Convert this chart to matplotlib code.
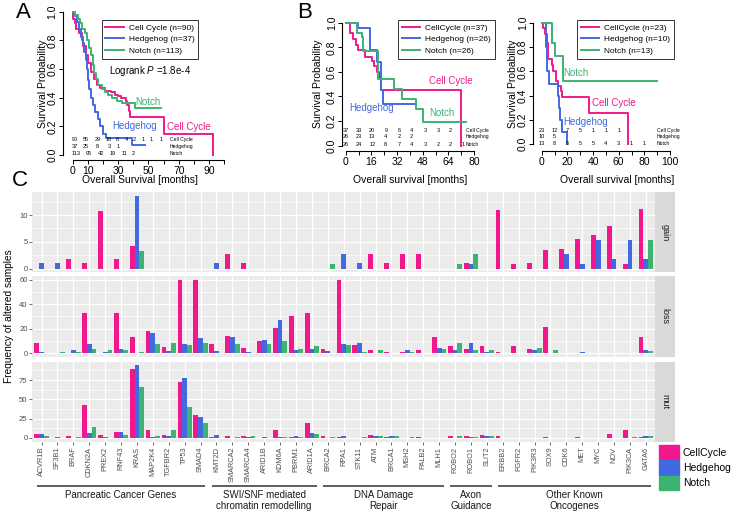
import numpy as np
import matplotlib
matplotlib.use('Agg')
import matplotlib.pyplot as plt
from matplotlib.patches import Patch
from matplotlib.lines import Line2D
from matplotlib.transforms import blended_transform_factory

plt.rcParams['font.family'] = ['Liberation Sans', 'DejaVu Sans']
plt.rcParams['mathtext.fontset'] = 'custom'
plt.rcParams['mathtext.it'] = 'Liberation Sans:italic'
plt.rcParams['mathtext.rm'] = 'Liberation Sans'

W, H = 733, 513
PINK = '#F0188C'
BLUE = '#4169E1'
GREEN = '#3CB371'

# ---- Panel A: Kaplan-Meier, all samples ----
a_cc_t = [0, 0.5, 1.5, 2.5, 4, 6, 7, 9, 10, 12, 14, 16, 18, 21, 25, 28, 30, 32, 35, 36, 37, 38, 60, 92.5]
a_cc_s = [1.0, 0.95, 0.92, 0.88, 0.85, 0.8, 0.76, 0.7, 0.64, 0.58, 0.53, 0.49, 0.465, 0.45, 0.44, 0.42, 0.41, 0.40, 0.38, 0.35, 0.31, 0.267, 0.144, 0.0]
a_hh_t = [0, 1.5, 2.6, 4.2, 5.5, 6.6, 7.5, 8.6, 9.7, 10.3, 11, 11.9, 13.2, 14.7, 16.5, 18, 20.2, 22, 39, 48]
a_hh_s = [1.0, 0.97, 0.93, 0.88, 0.82, 0.78, 0.72, 0.66, 0.6, 0.52, 0.46, 0.4, 0.35, 0.3, 0.25, 0.2, 0.15, 0.12, 0.07, 0.07]
a_nt_t = [0, 1.5, 3.7, 4.8, 5.9, 8.1, 9.7, 11, 12.1, 13.2, 14.3, 15.4, 16.9, 19.1, 21.3, 23.5, 25.7, 29, 32.3, 41.1, 58]
a_nt_s = [1.0, 0.98, 0.95, 0.92, 0.88, 0.85, 0.8, 0.75, 0.7, 0.63, 0.57, 0.53, 0.49, 0.46, 0.44, 0.42, 0.40, 0.38, 0.36, 0.33, 0.33]
a_risk = [['90', '55', '29', '18', '8', '4', '2', '1', '1', '1'],
          ['37', '25', '8', '3', '1'],
          ['113', '95', '42', '19', '11', '2']]
a_risk_t = [[1.5, 8.8, 16.5, 24, 29.7, 35.6, 40.7, 46.6, 52.1, 58.1],
            [1.5, 8.8, 16.5, 24, 29.7],
            [2.2, 10.3, 18.5, 26.2, 33.9, 40]]

# ---- Panel B (left) ----
b_cc_t = [0, 2.7, 4.8, 6.4, 7.9, 12, 16.2, 17.7, 19.3, 21, 22, 71.7]
b_cc_s = [1.0, 0.92, 0.87, 0.82, 0.78, 0.72, 0.69, 0.65, 0.6, 0.55, 0.455, 0.0]
b_hh_t = [0, 7.9, 15.2, 19.5, 22, 23.5, 43.6]
b_hh_s = [1.0, 0.96, 0.78, 0.68, 0.45, 0.34, 0.34]
b_nt_t = [0, 6.9, 10, 11, 20.4, 30.1, 35, 43.6, 48.4, 75]
b_nt_s = [1.0, 0.92, 0.88, 0.77, 0.54, 0.46, 0.38, 0.30, 0.19, 0.19]
b_risk = [['37', '33', '20', '9', '6', '4', '3', '3', '2'],
          ['26', '23', '13', '4', '2', '2'],
          ['26', '24', '12', '8', '7', '4', '3', '2', '2', '1']]
b_risk_t = [0, 8, 16.5, 25, 33.5, 41, 49.5, 57.5, 65, 73.5]

# ---- Panel B (right) ----
c_cc_t = [0, 1, 2.5, 4, 5, 8, 9, 11, 13, 15, 16, 37, 67]
c_cc_s = [1.0, 0.96, 0.91, 0.83, 0.7, 0.65, 0.6, 0.52, 0.48, 0.44, 0.39, 0.26, 0.0]
c_hh_t = [0, 3.4, 4.5, 6, 12.5, 13.5, 14.5, 15.6, 20]
c_hh_s = [1.0, 0.8, 0.6, 0.5, 0.4, 0.3, 0.2, 0.1, 0.0]
c_nt_t = [0, 7.8, 10.4, 16.4, 90]
c_nt_s = [1.0, 0.83, 0.73, 0.52, 0.52]
c_risk = [['23', '12', '7', '5', '1', '1', '1'],
          ['10', '5'],
          ['13', '8', '6', '5', '5', '4', '3', '1', '1']]
c_risk_t = [0, 10, 20, 30, 40, 50, 60, 70, 80]

# ---- Panel C: alteration frequencies ----
genes = ['ACVR1B', 'SF3B1', 'BRAF', 'CDKN2A', 'PREX2', 'RNF43', 'KRAS', 'MAP2K4', 'TGFBR2', 'TP53',
         'SMAD4', 'KMT2D', 'SMARCA2', 'SMARCA4', 'ARID1B', 'KDM6A', 'PBRM1', 'ARID1A', 'BRCA2', 'RPA1',
         'STK11', 'ATM', 'BRCA1', 'MSH2', 'PALB2', 'MLH1', 'ROBO2', 'ROBO1', 'SLIT2', 'ERBB2',
         'FGFR2', 'PIK3R3', 'SOX9', 'CDK6', 'MET', 'MYC', 'NOV', 'PIK3CA', 'GATA6']
gain_cc = [0, 0, 1.8, 1.1, 10.8, 1.8, 4.3, 0, 0, 0,
           0, 0, 2.7, 1.0, 0, 0, 0, 0, 0, 0,
           0, 2.7, 1.1, 2.7, 2.7, 0, 0, 1.1, 0, 10.9,
           0.9, 1.1, 3.4, 3.6, 5.6, 6.2, 7.9, 0.9, 11.2]
gain_hh = [1.0, 1.0, 0, 0, 0, 0, 13.6, 0, 0, 0,
           0, 1.1, 0, 0, 0, 0, 0, 0, 0, 2.7,
           1.1, 0, 0, 0, 0, 0, 0, 0.9, 0, 0,
           0, 0, 0, 2.7, 0.9, 5.4, 1.8, 5.4, 1.8]
gain_nt = [0, 0, 0, 0, 0, 0, 3.3, 0, 0, 0,
           0, 0, 0, 0, 0, 0, 0, 0, 0.9, 0,
           0, 0, 0, 0, 0, 0, 0.9, 2.7, 0, 0,
           0, 0, 0, 0, 0, 0, 0, 0, 5.4]
loss_cc = [7.9, 0, 0, 32.6, 0, 32.6, 13.4, 18, 5, 60,
           60, 7.7, 13.7, 4.1, 9.6, 20.8, 30, 32.6, 3.3, 60,
           6.8, 2.2, 1.1, 0.8, 2.5, 13.4, 5.5, 3.3, 5.5, 0.8,
           5.5, 3.3, 21.6, 0, 0, 0, 0, 0, 13.4]
loss_hh = [1.0, 0, 2.2, 7.4, 0.8, 3.3, 0, 16, 1.6, 7.7,
           12, 1.6, 13.4, 0.8, 10.7, 27, 2.2, 3.3, 1.6, 7.7,
           8.2, 0, 0, 2.7, 0, 4.1, 2.5, 8.2, 0.8, 0,
           0, 2.2, 0, 0, 0.8, 0, 0, 0, 2.2]
loss_nt = [0, 0.8, 0.8, 3.3, 2.5, 2.5, 0.8, 7.7, 8, 6.6,
           8, 0, 7.7, 0, 7.7, 9.9, 3.3, 5.8, 0, 6.8,
           1.1, 2.7, 0, 1.1, 0, 3.3, 8.2, 2.2, 2.5, 0,
           0, 4.1, 2.2, 0, 0, 0, 0, 0, 1.6]
mut_cc = [4.7, 0, 2.6, 43, 3.5, 7.8, 89, 10.8, 3.5, 72,
          29.8, 1.7, 2.6, 2.6, 0, 10.8, 1.3, 19, 2.6, 1.3,
          0, 3.9, 1.3, 0, 1.3, 0, 2.2, 2.2, 3.5, 2.2,
          0, 0, 0.9, 0, 0.9, 0, 5.2, 10.8, 0.9]
mut_hh = [5.6, 0.9, 0, 6, 1.3, 7.8, 94, 1.3, 2.2, 78,
          27.2, 3.9, 0, 1.3, 1.3, 0.9, 2.6, 6.5, 0, 2.6,
          0, 2.6, 2.6, 0, 0, 0, 0, 1.3, 2.2, 0,
          0, 0, 0, 0, 0, 0, 0, 0, 2.2]
mut_nt = [2.2, 0, 1.3, 14, 0, 3.5, 66, 2.2, 10.8, 39.7,
          19.4, 0, 0.9, 2.6, 0, 0.9, 1.3, 4.7, 1.3, 0,
          1.3, 2.2, 2.6, 1.3, 0, 0, 2.6, 1.3, 2.2, 0,
          0, 0, 0, 0, 0, 0, 0, 1.3, 2.2]
groups = [('Pancreatic Cancer Genes', 'ACVR1B', 'SMAD4'),
          ('SWI/SNF mediated\nchromatin remodelling', 'KMT2D', 'ARID1A'),
          ('DNA Damage\nRepair', 'BRCA2', 'MLH1'),
          ('Axon\nGuidance', 'ROBO2', 'SLIT2'),
          ('Other Known\nOncogenes', 'ERBB2', 'GATA6')]

fig = plt.figure(figsize=(W / 100, H / 100), dpi=100)


def px_axes(x0, y0, x1, y1):
    return fig.add_axes([x0 / W, 1 - y1 / H, (x1 - x0) / W, (y1 - y0) / H])


def km(ax, curves, xmax, ticks, labels, yout, xout):
    for t, s, c in curves:
        ax.step(t, s, where='post', color=c, lw=1.4, clip_on=False)
    ax.set_xlim(0, xmax)
    ax.set_ylim(0, 1)
    ax.patch.set_alpha(0)
    for sp in ['top', 'right']:
        ax.spines[sp].set_visible(False)
    ax.spines['left'].set_position(('outward', yout))
    ax.spines['bottom'].set_position(('outward', xout))
    ax.spines['left'].set_bounds(0, 1)
    ax.spines['bottom'].set_bounds(0, xmax)
    ax.set_xticks(ticks)
    ax.set_xticklabels(labels)
    ax.set_yticks([0, 0.2, 0.4, 0.6, 0.8, 1.0])
    ax.set_yticklabels(['0.0', '0.2', '0.4', '0.6', '0.8', '1.0'], rotation=90, va='center')
    ax.tick_params(length=3, width=0.7, pad=1.5, labelsize=7.5)
    ax.tick_params(axis='y', pad=0.8)


def risk(ax, rows, tpos, ys, xlab, names=('Cell Cycle', 'Hedgehog', 'Notch')):
    for r, row in enumerate(rows):
        tp = tpos[r] if isinstance(tpos[0], list) else tpos
        for v, t in zip(row, tp):
            ax.text(t, ys[r], v, fontsize=4, ha='center', va='center', clip_on=False)
        ax.text(xlab, ys[r], names[r], fontsize=3.6, ha='left', va='center', clip_on=False)


def km_legend(ax, labels, x, y):
    handles = [Line2D([], [], color=c, lw=1.4) for c in (PINK, BLUE, GREEN)]
    leg = ax.legend(handles, labels, loc='upper left', bbox_to_anchor=(x / W, 1 - y / H),
                    bbox_transform=fig.transFigure, fontsize=6, frameon=True, fancybox=False,
                    edgecolor='black', handlelength=2.2, handletextpad=0.6, labelspacing=0.45,
                    borderpad=0.45, borderaxespad=0)
    leg.get_frame().set_linewidth(0.7)


# Panel A
axA = px_axes(72.7, 11.7, 224.2, 155)
km(axA, [(a_cc_t, a_cc_s, PINK), (a_hh_t, a_hh_s, BLUE), (a_nt_t, a_nt_s, GREEN)], 100,
   list(range(0, 101, 10)), ['0', '10', '', '30', '', '50', '', '70', '', '90', ''], 7.2, 3.6)
risk(axA, a_risk, a_risk_t, [0.105, 0.058, 0.007], 64)
km_legend(axA, ['Cell Cycle (n=90)', 'Hedgehog (n=37)', 'Notch (n=113)'], 101.7, 20)
axA.text(51, 0.586, 'Logrank $P$ =1.8e-4', fontsize=7, ha='center', va='center')
axA.text(49.7, 0.372, 'Notch', color=GREEN, fontsize=7, ha='center', va='center')
axA.text(40.9, 0.202, 'Hedgehog', color=BLUE, fontsize=7, ha='center', va='center')
axA.text(76.8, 0.198, 'Cell Cycle', color=PINK, fontsize=7, ha='center', va='center')

# Panel B left
axB = px_axes(345.7, 22.7, 474, 145.7)
km(axB, [(b_cc_t, b_cc_s, PINK), (b_hh_t, b_hh_s, BLUE), (b_nt_t, b_nt_s, GREEN)], 80,
   list(range(0, 81, 8)), ['0', '', '16', '', '32', '', '48', '', '64', '', '80'], 2.5, 3.6)
risk(axB, b_risk, b_risk_t, [0.122, 0.073, 0.0136], 75)
km_legend(axB, ['CellCycle (n=37)', 'Hedgehog (n=26)', 'Notch (n=26)'], 398, 20)
axB.text(65.5, 0.526, 'Cell Cycle', color=PINK, fontsize=7, ha='center', va='center')
axB.text(16.2, 0.309, 'Hedgehog', color=BLUE, fontsize=7, ha='center', va='center')
axB.text(59.8, 0.268, 'Notch', color=GREEN, fontsize=7, ha='center', va='center')

# Panel B right
axC = px_axes(541.7, 22.7, 670, 144.3)
km(axC, [(c_cc_t, c_cc_s, PINK), (c_hh_t, c_hh_s, BLUE), (c_nt_t, c_nt_s, GREEN)], 100,
   list(range(0, 101, 10)), ['0', '', '20', '', '40', '', '60', '', '80', '', '100'], 6.2, 4.6)
risk(axC, c_risk, c_risk_t, [0.112, 0.063, 0.003], 89.6)
km_legend(axC, ['CellCycle (n=23)', 'Hedgehog (n=10)', 'Notch (n=13)'], 577, 20)
axC.text(26.8, 0.589, 'Notch', color=GREEN, fontsize=7, ha='center', va='center')
axC.text(56.4, 0.337, 'Cell Cycle', color=PINK, fontsize=7, ha='center', va='center')
axC.text(34.5, 0.181, 'Hedgehog', color=BLUE, fontsize=7, ha='center', va='center')

# Panel C bars
x = np.arange(len(genes))
bw = 0.3
panels = [('gain', gain_cc, gain_hh, gain_nt, (-0.7, 14.3), [0, 5, 10], [2.5, 7.5, 12.5], 192, 272.3),
          ('loss', loss_cc, loss_hh, loss_nt, (-3, 63), [0, 20, 40, 60], [10, 30, 50], 276, 356.7),
          ('mut', mut_cc, mut_hh, mut_nt, (-4.7, 98.7), [0, 25, 50, 75], [12.5, 37.5, 62.5, 87.5], 361.8, 441.6)]
for name, cc, hh, nt, ylim, yt, ymin, y0, y1 in panels:
    ax = px_axes(32, y0, 655.4, y1)
    ax.set_facecolor('#EBEBEB')
    ax.bar(x - bw, cc, bw, color=PINK, zorder=3)
    ax.bar(x, hh, bw, color=BLUE, zorder=3)
    ax.bar(x + bw, nt, bw, color=GREEN, zorder=3)
    ax.set_xlim(-0.6, len(genes) - 0.4)
    ax.set_ylim(*ylim)
    ax.set_yticks(yt)
    ax.set_yticks(ymin, minor=True)
    ax.set_xticks(x)
    ax.grid(which='major', color='white', lw=0.9, zorder=0)
    ax.grid(which='minor', axis='y', color='white', lw=0.45, zorder=0)
    ax.set_axisbelow(True)
    for sp in ax.spines.values():
        sp.set_visible(False)
    ax.tick_params(axis='y', which='major', length=2.2, width=0.5, color='#333333',
                   labelsize=5.5, labelcolor='#4D4D4D', pad=1)
    ax.tick_params(axis='y', which='minor', length=0)
    if name == 'mut':
        ax.set_xticklabels(genes, rotation=90, fontsize=5.3, color='#4D4D4D')
        ax.tick_params(axis='x', length=2.2, width=0.5, color='#333333', pad=1.5)
        ax_mut = ax
    else:
        ax.tick_params(axis='x', length=0, labelbottom=False)
    st = px_axes(655.4, y0, 674.5, y1)
    st.set_facecolor('#D9D9D9')
    st.set_xticks([])
    st.set_yticks([])
    for sp in st.spines.values():
        sp.set_visible(False)
    st.text(0.5, 0.5, name, rotation=-90, ha='center', va='center', fontsize=6.5,
            color='#1A1A1A', transform=st.transAxes)

# overlay for labels and annotations (pixel coordinates)
ov = px_axes(0, 0, W, H)
ov.set_xlim(0, W)
ov.set_ylim(H, 0)
ov.axis('off')

ov.text(23, 13, 'A', fontsize=16, ha='center', va='center')
ov.text(305, 13, 'B', fontsize=16, ha='center', va='center')
ov.text(20, 181, 'C', fontsize=16, ha='center', va='center')
ov.text(43, 84, 'Survival Probability', rotation=90, fontsize=7.5, ha='center', va='center')
ov.text(318, 84, 'Survival Probability', rotation=90, fontsize=7.5, ha='center', va='center')
ov.text(513, 84, 'Survival Probability', rotation=90, fontsize=7.5, ha='center', va='center')
ov.text(140.5, 180, 'Overall Survival [months]', fontsize=7.5, ha='center', va='center')
ov.text(410, 180, 'Overall survival [months]', fontsize=7.5, ha='center', va='center')
ov.text(616.7, 180, 'Overall survival [months]', fontsize=7.5, ha='center', va='center')
ov.text(9, 316, 'Frequency of altered samples', rotation=90, fontsize=7.3, ha='center', va='center')

# group annotations under the gene labels
tr = blended_transform_factory(ax_mut.transData, ov.transData)
for label, g0, g1 in groups:
    i0, i1 = genes.index(g0), genes.index(g1)
    ov.plot([i0 - 0.3, i1 + 0.3], [485.7, 485.7], color='#333333', lw=1.1, transform=tr,
            clip_on=False, solid_capstyle='butt')
    ov.text((i0 + i1) / 2, 490, label, transform=tr, fontsize=7, ha='center', va='top',
            linespacing=1.15, color='#1A1A1A')

handles = [Patch(color=c) for c in (PINK, BLUE, GREEN)]
fig.legend(handles, ['CellCycle', 'Hedgehog', 'Notch'], loc='upper left',
           bbox_to_anchor=(659 / W, 1 - 445 / H), frameon=False, fontsize=7.5,
           handlelength=1.9, handleheight=1.75, labelspacing=0.1, handletextpad=0.4,
           borderpad=0, borderaxespad=0)

fig.savefig('out.png', dpi=100, facecolor='white')
